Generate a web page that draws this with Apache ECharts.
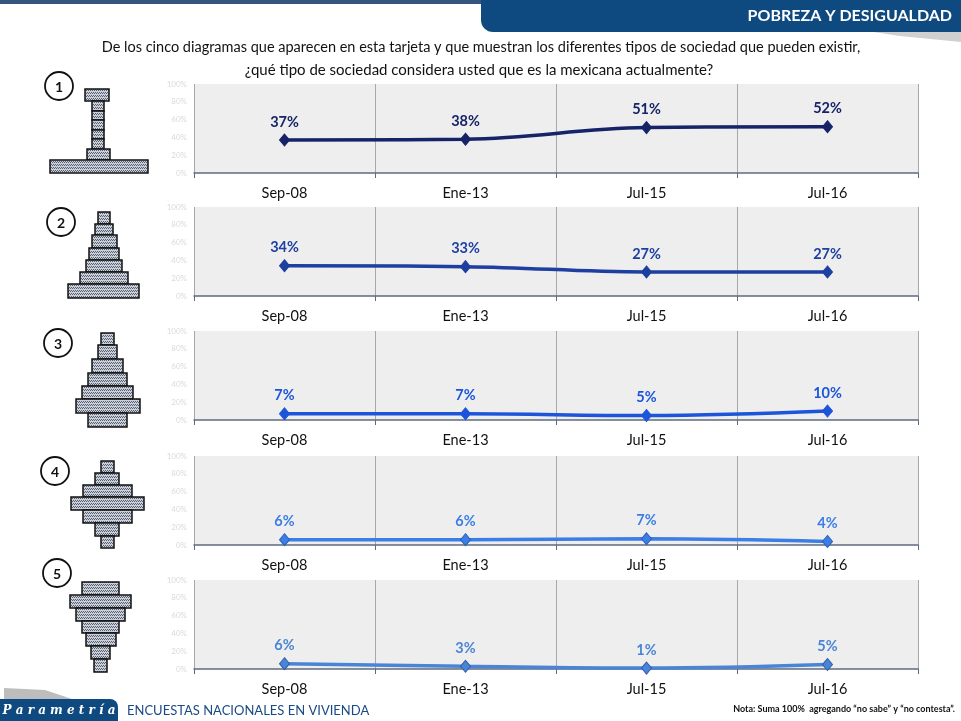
<!DOCTYPE html>
<html><head><meta charset="utf-8">
<script src="https://cdn.jsdelivr.net/npm/echarts@6/dist/echarts.min.js"></script>
<style>html,body{margin:0;padding:0;background:#fff}#c{width:961px;height:721px}</style>
</head><body><div id="c"></div>
<script>
// ---- data ----
const categories = ['Sep-08', 'Ene-13', 'Jul-15', 'Jul-16'];
const tipo1 = [37, 38, 51, 52];
const tipo2 = [34, 33, 27, 27];
const tipo3 = [7, 7, 5, 10];
const tipo4 = [6, 6, 7, 4];
const tipo5 = [6, 3, 1, 5];
const panelNumbers = ['1', '2', '3', '4', '5'];
const titleLine1 = 'De los cinco diagramas que aparecen en esta tarjeta y que muestran los diferentes tipos de sociedad que pueden existir,';
const titleLine2 = '¿qué tipo de sociedad considera usted que es la mexicana actualmente?';
const headerText = 'POBREZA Y DESIGUALDAD';
const footerText = 'ENCUESTAS NACIONALES EN VIVIENDA';
const noteText = 'Nota: Suma 100%  agregando “no sabe” y “no contesta”.';
const logoText = 'P a r a m e t r í a';

// ---- layout / style ----
const seriesData = [tipo1, tipo2, tipo3, tipo4, tipo5];
const colors = ['#162367', '#1d3f9f', '#1c55da', '#3b7ee6', '#4a84d6'];
const borderColors = ['#162367', '#1d3f9f', '#1c55da', '#2b5fb8', '#2f5ea8'];
const gridTops = [84, 207, 331, 456, 580];
const gridH = 89;
const FONT = 'Lato, "Open Sans", sans-serif';

const grids = [], xAxes = [], yAxes = [], series = [];
seriesData.forEach((d, i) => {
  grids.push({left: 194, width: 724, top: gridTops[i], height: gridH, show: true,
    backgroundColor: '#eeeeee', borderWidth: 0});
  xAxes.push({type: 'category', gridIndex: i, data: categories, boundaryGap: true,
    axisLine: {lineStyle: {color: '#5d6b7e', width: 1.5}},
    axisTick: {show: true, length: 5, lineStyle: {color: '#5d6b7e'}},
    axisLabel: {color: '#111', fontSize: 14.5, fontFamily: FONT, margin: 13},
    splitLine: {show: true, lineStyle: {color: '#a8a8a8', width: 1}}});
  yAxes.push({type: 'value', gridIndex: i, min: 0, max: 100, interval: 20,
    axisLine: {show: false}, axisTick: {show: false}, splitLine: {show: false},
    axisLabel: {formatter: '{value}%', color: '#dadada', fontSize: 8, fontFamily: FONT, margin: 7}});
  series.push({type: 'line', xAxisIndex: i, yAxisIndex: i, data: d, smooth: 0.4,
    symbol: 'diamond', symbolSize: [10, 12],
    lineStyle: {color: colors[i], width: 3.5},
    itemStyle: {color: colors[i], borderColor: borderColors[i], borderWidth: 1},
    label: {show: true, position: 'top', distance: 4, formatter: '{c}%',
      color: colors[i], fontSize: 14.5, fontWeight: 'bold', fontFamily: FONT},
    z: 3});
});

// icon geometry (decorative): [x1, x2, y1, y2]
const icons = [
  [[85,109,89,101],[92,104,101,111],[92,104,111,120],[92,104,120,130],[92,104,130,139],[92,104,139,149],[87,110,149,160],[50,148,160,173]],
  [[98,110,212,224],[95,113,224,235],[92,117,235,248],[89,119,248,260],[86,122,260,272],[80,128,272,284],[68,139,284,298]],
  [[101,114,333,345],[98,117,345,359],[92,123,359,373],[88,127,373,386],[82,133,386,399],[76,140,399,413],[88,127,413,427]],
  [[101,114,461,473],[95,119,473,485],[83,132,485,497],[71,144,497,510],[83,132,510,523],[95,119,523,536],[101,114,536,548]],
  [[82,119,582,595],[70,131,595,608],[76,125,608,621],[82,119,621,633],[86,116,633,646],[91,110,646,659],[94,107,659,672]]
];
const circles = [[59,86],[61,222],[58,343],[55,471],[57,573]];

const pc = document.createElement('canvas');
pc.width = 2; pc.height = 3;
const pctx = pc.getContext('2d');
pctx.fillStyle = '#c9d0dc'; pctx.fillRect(0, 0, 2, 3);
pctx.fillStyle = '#5a606b'; pctx.fillRect(0, 0, 1, 1); pctx.fillRect(1, 2, 1, 1);
const pattern = {image: pc, repeat: 'repeat'};

const graphics = [];
// top band and header
graphics.push({type: 'rect', shape: {x: 0, y: 0, width: 961, height: 4}, style: {fill: '#35557f'}, z: 1});
graphics.push({type: 'polygon', shape: {points: [[860,30],[961,30],[961,42],[900,36]]}, style: {fill: '#d0d0d0'}, z: 1});
graphics.push({type: 'rect', shape: {x: 481, y: -2, width: 482, height: 34, r: [0, 0, 0, 12]}, style: {fill: '#0e4a80'}, z: 2});
graphics.push({type: 'text', x: 952, y: 16, style: {text: headerText, fill: '#fff', font: 'bold 16px ' + FONT, align: 'right', verticalAlign: 'middle'}, z: 3});
// title
graphics.push({type: 'text', x: 481, y: 47, style: {text: titleLine1, fill: '#111', font: '14.5px ' + FONT, align: 'center', verticalAlign: 'middle'}, z: 3});
graphics.push({type: 'text', x: 479, y: 70, style: {text: titleLine2, fill: '#111', font: '15px ' + FONT, align: 'center', verticalAlign: 'middle'}, z: 3});
// icons
icons.forEach(list => list.forEach(r => {
  graphics.push({type: 'rect', shape: {x: r[0], y: r[2], width: r[1] - r[0], height: r[3] - r[2]},
    style: {fill: pattern, stroke: '#111', lineWidth: 1.5}, z: 3});
}));
circles.forEach((c, i) => {
  graphics.push({type: 'circle', shape: {cx: c[0], cy: c[1], r: 14}, style: {fill: '#fff', stroke: '#111', lineWidth: 1.8}, z: 3});
  graphics.push({type: 'text', x: c[0], y: c[1] + 1, style: {text: panelNumbers[i], fill: '#111', font: 'bold 14px ' + FONT, align: 'center', verticalAlign: 'middle'}, z: 4});
});
// footer
graphics.push({type: 'polygon', shape: {points: [[4,688],[45,690],[72,699],[4,699]]}, style: {fill: '#bdbdbd'}, z: 1});
graphics.push({type: 'rect', shape: {x: 0, y: 699, width: 118, height: 24, r: [0, 8, 0, 0]}, style: {fill: '#0e4a80'}, z: 2});
graphics.push({type: 'text', x: 59, y: 711, style: {text: logoText, fill: '#fff', font: 'italic bold 12px "DejaVu Serif", "Liberation Serif", serif', align: 'center', verticalAlign: 'middle'}, z: 3});
graphics.push({type: 'text', x: 127, y: 711, style: {text: footerText, fill: '#1a4a84', font: '13px ' + FONT, align: 'left', verticalAlign: 'middle'}, z: 3});
graphics.push({type: 'text', x: 955, y: 709, style: {text: noteText, fill: '#111', font: 'bold 9px ' + FONT, align: 'right', verticalAlign: 'middle'}, z: 3});

const chart = echarts.init(document.getElementById('c'), null, {renderer: 'canvas'});
chart.setOption({
  backgroundColor: '#ffffff',
  animation: false,
  grid: grids, xAxis: xAxes, yAxis: yAxes, series: series,
  graphic: graphics
});
</script>
</body></html>
